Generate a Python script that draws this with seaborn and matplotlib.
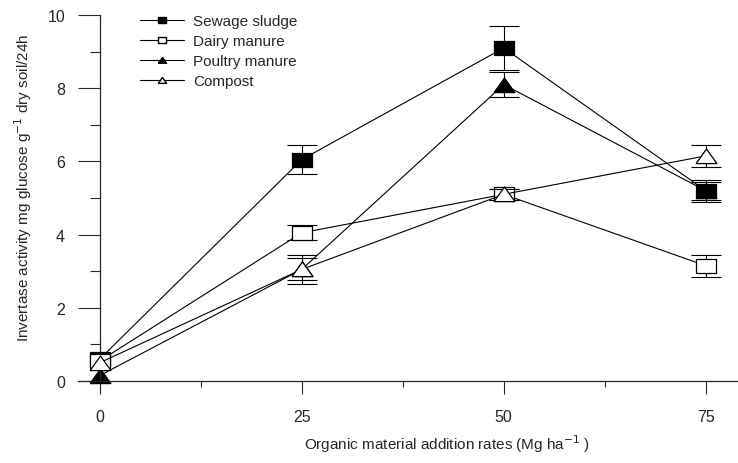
import numpy as np
import pandas as pd
import seaborn as sns
import matplotlib.pyplot as plt
from matplotlib.lines import Line2D
from matplotlib.ticker import MultipleLocator

rates = [0, 25, 50, 75]
treatments = ['Sewage sludge', 'Dairy manure', 'Poultry manure', 'Compost']
sewage = [0.6, 6.05, 9.1, 5.2]
sewage_err = [0.0, 0.4, 0.6, 0.25]
dairy = [0.55, 4.05, 5.1, 3.15]
dairy_err = [0.0, 0.2, 0.15, 0.3]
poultry = [0.15, 3.05, 8.1, 5.2]
poultry_err = [0.0, 0.4, 0.35, 0.3]
compost = [0.5, 3.05, 5.1, 6.15]
compost_err = [0.0, 0.3, 0.15, 0.3]

df = pd.DataFrame({
    'rate': rates * 4,
    'activity': sewage + dairy + poultry + compost,
    'err': sewage_err + dairy_err + poultry_err + compost_err,
    'treatment': np.repeat(treatments, 4),
})

sns.set_style('ticks')
plt.rcParams['font.family'] = ['Liberation Sans', 'DejaVu Sans']

rect = [(-1, -0.72), (1, -0.72), (1, 0.72), (-1, 0.72), (-1, -0.72)]
tri = [(-1, -0.68), (1, -0.68), (0, 0.72), (-1, -0.68)]
styles = {
    'Sewage sludge': dict(marker=rect, mfc='black', z=3),
    'Dairy manure': dict(marker=rect, mfc='white', z=4),
    'Poultry manure': dict(marker=tri, mfc='black', z=2),
    'Compost': dict(marker=tri, mfc='white', z=5),
}

fig = plt.figure(figsize=(7.38, 4.64), dpi=100)
ax = fig.add_axes([78 / 738, 82 / 464, 660 / 738, 366 / 464])

for t in treatments:
    sub = df[df['treatment'] == t]
    st = styles[t]
    eb = sub[sub['err'] > 0]
    ax.errorbar(eb['rate'], eb['activity'], yerr=eb['err'], fmt='none',
                ecolor='black', elinewidth=0.8, capsize=10.5, capthick=0.8,
                zorder=st['z'] - 0.5, clip_on=False)
    sns.lineplot(data=sub, x='rate', y='activity', ax=ax, color='black',
                 lw=0.8, legend=False)
    line = ax.lines[-1]
    line.set_marker(st['marker'])
    line.set_markersize(15)
    line.set_markerfacecolor(st['mfc'])
    line.set_markeredgecolor('black')
    line.set_markeredgewidth(0.9)
    line.set_zorder(st['z'])
    line.set_clip_on(False)

ax.set_xlim(-2.7, 79)
ax.set_ylim(0, 10)
ax.spines['left'].set_position(('data', 0))
ax.spines['top'].set_visible(False)
ax.spines['right'].set_visible(False)
ax.spines['left'].set_linewidth(0.9)
ax.spines['bottom'].set_linewidth(0.9)

ax.set_xticks([0, 25, 50, 75])
ax.xaxis.set_minor_locator(MultipleLocator(12.5))
ax.set_yticks([0, 2, 4, 6, 8, 10])
ax.yaxis.set_minor_locator(MultipleLocator(1))
ax.tick_params(axis='y', which='major', length=16, width=0.8, pad=9,
               labelsize=11.5)
ax.tick_params(axis='y', which='minor', length=7, width=0.8)
ax.tick_params(axis='x', which='major', length=9, width=0.8, pad=11,
               labelsize=11.5)
ax.tick_params(axis='x', which='minor', length=4, width=0.8)

ax.set_xlabel('Organic material addition rates (Mg ha$^{-1}$ )', fontsize=11)
ax.xaxis.set_label_coords((447 - 78) / 660, -0.14)
ax.set_ylabel('Invertase activity mg glucose g$^{-1}$ dry soil/24h',
              fontsize=11)
ax.yaxis.set_label_coords(-0.066, 0.53)

handles = [Line2D([], [], color='black', lw=0.8, marker=styles[t]['marker'],
                  markersize=6, markerfacecolor=styles[t]['mfc'],
                  markeredgecolor='black') for t in treatments]
ax.legend(handles, treatments, loc='upper left', frameon=False,
          bbox_to_anchor=(0.073, 1.04), fontsize=11, handlelength=2.9,
          labelspacing=0.4, handletextpad=0.6)

fig.savefig('out.png', dpi=100)
